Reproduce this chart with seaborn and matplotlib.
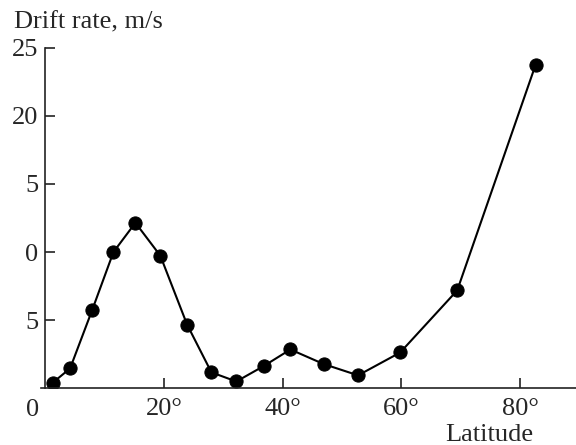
import matplotlib
matplotlib.use("Agg")
import matplotlib.pyplot as plt
import seaborn as sns
import pandas as pd

# Data
latitude = [1.3, 4.2, 7.95, 11.5, 15.2, 19.4, 23.9, 28.0, 32.2, 36.8, 41.3, 46.9, 52.7, 59.8, 69.4, 82.6]
drift_rate = [0.42, 1.46, 5.78, 10.0, 12.15, 9.73, 4.68, 1.17, 0.5, 1.63, 2.85, 1.78, 0.95, 2.63, 7.19, 23.75]

x_ticks = [20, 40, 60, 80]
x_tick_labels = ["20°", "40°", "60°", "80°"]
y_ticks = [5, 10, 15, 20, 25]
y_tick_labels = ["5", "0", "5", "20", "25"]

sns.set_style("ticks")
plt.rcParams['font.family'] = ['Liberation Serif', 'DejaVu Serif']
FS = 19
plt.rcParams['font.size'] = FS

df = pd.DataFrame({"Latitude": latitude, "Drift": drift_rate})

fig = plt.figure(figsize=(5.76, 4.45), dpi=100)
ax = fig.add_axes([41/576, 1 - 388.3/445, 1 - 41/576, (388.3 - 47.7)/445])

sns.lineplot(data=df, x="Latitude", y="Drift", ax=ax, color="black",
             marker="o", markersize=9.5, markeredgecolor="black",
             linewidth=1.5, sort=False)

ax.set_xlim(-0.7, 89.4)
ax.set_ylim(0, 25)
ax.spines['top'].set_visible(False)
ax.spines['right'].set_visible(False)
ax.spines['left'].set_position(('data', 0))
for s in ('left', 'bottom'):
    ax.spines[s].set_linewidth(1.2)
    ax.spines[s].set_color('#222222')

ax.set_xticks(x_ticks)
ax.set_xticklabels(x_tick_labels)
ax.set_yticks(y_ticks)
ax.set_yticklabels(y_tick_labels)
ax.tick_params(axis='both', direction='in', length=7, width=1.2, color='#222222',
               labelsize=FS)
ax.tick_params(axis='y', pad=5)
ax.tick_params(axis='x', pad=7)
ax.set_xlabel("")
ax.set_ylabel("")

fig.text(33/576, 1 - 410/445, "0", ha='center', va='center', fontsize=FS)
fig.text(14/576, 1 - 28/445, "Drift rate, m/s", ha='left', va='baseline', fontsize=FS)
fig.text(489/576, 1 - 441/445, "Latitude", ha='center', va='baseline', fontsize=FS)

fig.savefig("out.png", dpi=100)
